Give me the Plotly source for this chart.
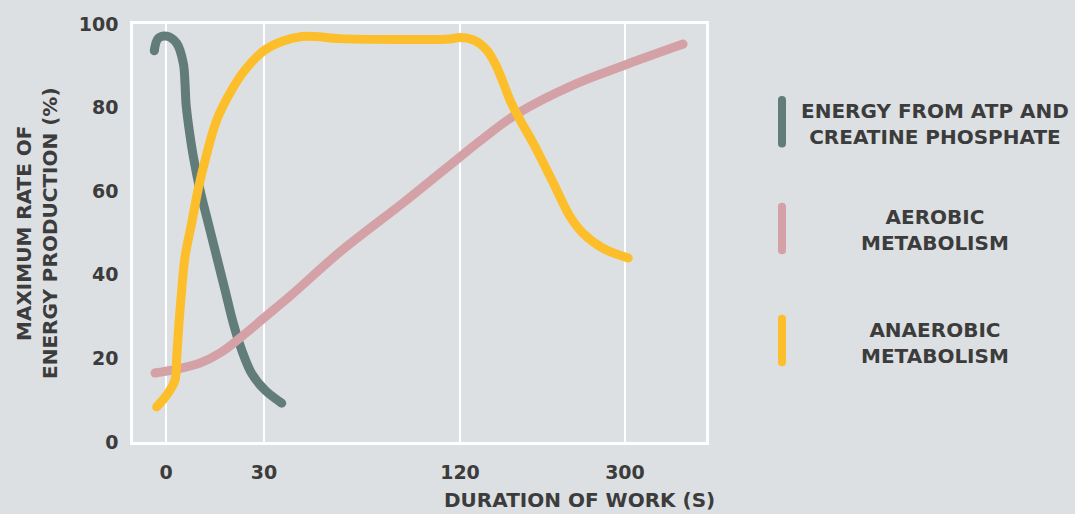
import plotly.graph_objects as go

# x values are positions along the (non-linear) duration axis; tick labels below
tick_pos = [0, 30, 90, 140.5]
tick_labels = ["0", "30", "120", "300"]
y_ticks = [0, 20, 40, 60, 80, 100]

atp_x = [-3.58, -2.36, 0.21, 3.28, 5.30, 5.82, 6.12, 6.83, 8.36, 10.41, 12.95, 15.52, 18.06, 20.6,
         23.17, 26.23, 30.31, 35.42]
atp_y = [93.6, 96.6, 97.1, 95.4, 90.6, 85.8, 81.0, 76.2, 68.3, 60.3, 52.3, 44.3, 36.4, 28.4,
         22.0, 16.4, 12.4, 9.3]

aer_x = [-3.37, 3.67, 10.41, 16.53, 22.65, 30.31, 37.96, 53.3, 73.7, 90.0, 96.1, 107.4, 124.6, 140.5, 158.3]
aer_y = [16.5, 17.5, 18.9, 21.3, 24.9, 29.9, 34.9, 45.5, 57.9, 68.2, 72.0, 78.5, 85.4, 90.2, 95.2]

ana_x = [-2.85, 0.21, 2.76, 3.28, 3.98, 4.81, 5.82, 7.87, 9.80, 12.24, 15.52, 20.11, 24.18, 29.79,
         35.42, 41.54, 45.6, 53.3, 71.6, 86.9, 90.0, 94.07, 98.17, 101.2, 103.3, 105.3, 108.4, 112.4,
         118.6, 123.7, 127.7, 133.9, 141.5]
ana_y = [8.4, 11.2, 14.8, 20.3, 28.5, 36.4, 44.3, 52.4, 60.3, 68.2, 77.0, 84.2, 89.0, 93.5,
         95.8, 97.0, 97.0, 96.5, 96.3, 96.4, 96.8, 96.2, 93.8, 89.8, 85.8, 81.8, 77.0, 71.5,
         61.9, 53.9, 49.9, 46.3, 44.0]

series = [
    ("ENERGY FROM ATP AND<br>CREATINE PHOSPHATE", atp_x, atp_y, "#627C79"),
    ("AEROBIC<br>METABOLISM", aer_x, aer_y, "#D3A1A6"),
    ("ANAEROBIC<br>METABOLISM", ana_x, ana_y, "#FDBE2C"),
]

BG = "#DDE0E3"
TXT = "#3C3C3C"
FONT = "DejaVu Sans"
LW = 9

fig = go.Figure()
for name, xs, ys, col in series:
    fig.add_trace(go.Scatter(x=xs, y=ys, mode="lines", name=name,
                             line=dict(color=col, width=LW, shape="spline", smoothing=1.0),
                             hoverinfo="skip", showlegend=False))
    fig.add_trace(go.Scatter(x=[xs[0], xs[-1]], y=[ys[0], ys[-1]], mode="markers",
                             marker=dict(color=col, size=LW, line=dict(width=0)),
                             hoverinfo="skip", showlegend=False))

# custom legend: vertical bars with centered text
leg_y = [0.766, 0.511, 0.243]
for (name, xs, ys, col), yc in zip(series, leg_y):
    fig.add_shape(type="line", xref="paper", yref="paper",
                  x0=1.1326, x1=1.1326, y0=yc - 0.052, y1=yc + 0.052,
                  line=dict(color=col, width=8))
    fig.add_shape(type="circle", xref="paper", yref="paper", fillcolor=col, line=dict(width=0),
                  x0=1.1326 - 0.007, x1=1.1326 + 0.007, y0=yc + 0.052 - 0.0096, y1=yc + 0.052 + 0.0096)
    fig.add_shape(type="circle", xref="paper", yref="paper", fillcolor=col, line=dict(width=0),
                  x0=1.1326 - 0.007, x1=1.1326 + 0.007, y0=yc - 0.052 - 0.0096, y1=yc - 0.052 + 0.0096)
    fig.add_annotation(xref="paper", yref="paper", x=1.40, y=yc - 0.005, text=name,
                       showarrow=False, xanchor="center", yanchor="middle", align="center",
                       font=dict(family=FONT, size=20, color=TXT, weight="bold"))

fig.add_annotation(xref="paper", yref="paper", x=0.780, y=-0.139, text="DURATION OF WORK (S)",
                   showarrow=False, xanchor="center", yanchor="middle",
                   font=dict(family=FONT, size=20, color=TXT, weight="bold"))
fig.add_annotation(xref="paper", yref="paper", x=-0.1675, y=0.5,
                   text="MAXIMUM RATE OF<br>ENERGY PRODUCTION (%)", textangle=-90,
                   showarrow=False, xanchor="center", yanchor="middle", align="center",
                   font=dict(family=FONT, size=20, color=TXT, weight="bold"))

fig.update_layout(
    width=1075, height=514,
    margin=dict(l=133, r=369, t=24, b=72),
    paper_bgcolor=BG, plot_bgcolor=BG,
    font=dict(family=FONT, size=19, color=TXT, weight="bold"),
    xaxis=dict(range=[-10.1, 165.3], tickvals=tick_pos, ticktext=tick_labels,
               showgrid=True, gridcolor="white", gridwidth=2,
               showline=True, linecolor="white", linewidth=2.5, mirror=True,
               zeroline=False, ticks="", ticklabelstandoff=11,
               tickfont=dict(family=FONT, size=19, color=TXT, weight="bold")),
    yaxis=dict(range=[0, 100], tickvals=y_ticks, showgrid=False,
               showline=True, linecolor="white", linewidth=2.5, mirror=True,
               zeroline=False, ticks="", ticklabelstandoff=8,
               tickfont=dict(family=FONT, size=19, color=TXT, weight="bold")),
)

fig.write_html("out.html", config={"displayModeBar": False},
               post_script="document.body.style.margin='0px';")
